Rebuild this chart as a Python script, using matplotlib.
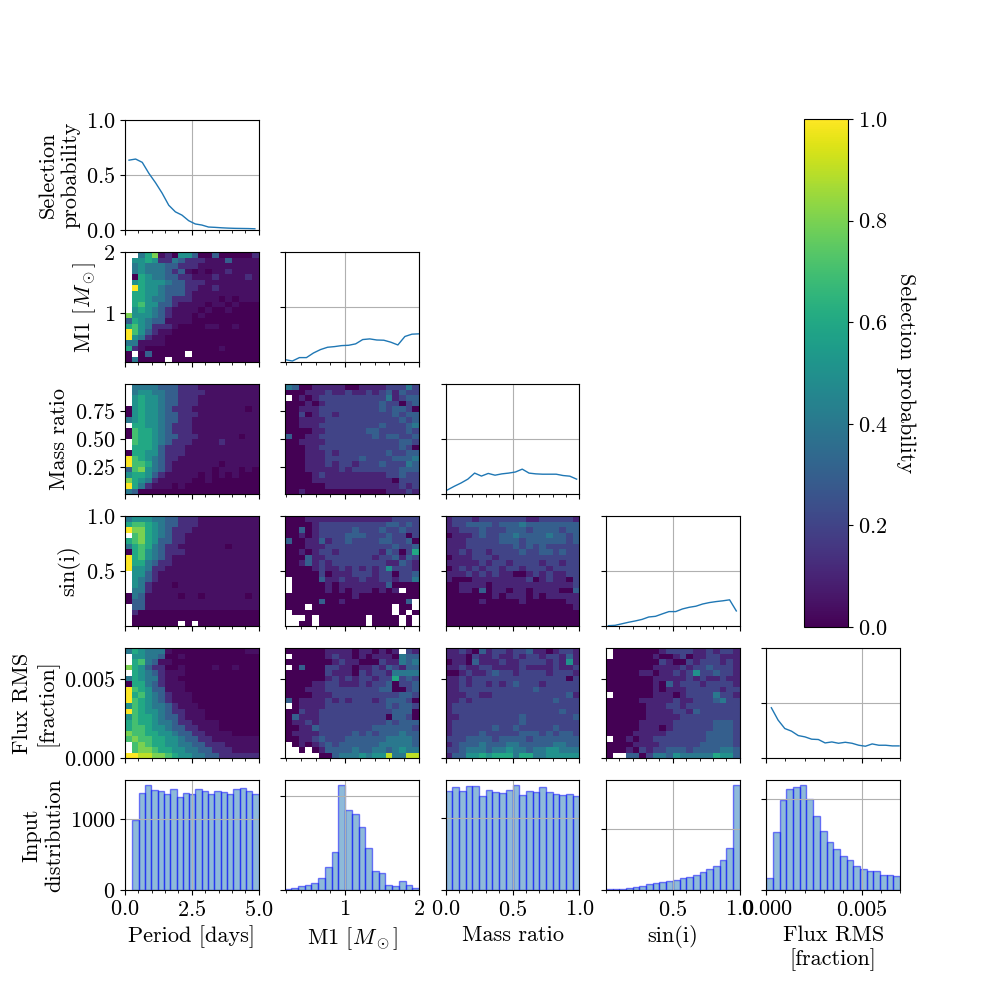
import numpy as np
import matplotlib
matplotlib.use("Agg")
import matplotlib.pyplot as plt
from matplotlib.ticker import AutoMinorLocator

plt.rcParams['font.family'] = 'serif'
plt.rcParams['font.serif'] = ['cmr10', 'DejaVu Serif']
plt.rcParams['mathtext.fontset'] = 'cm'
plt.rcParams['axes.formatter.use_mathtext'] = True
plt.rcParams['font.size'] = 16

names = ['Period [days]', r'M1 [$M_\odot$]', 'Mass ratio', 'sin(i)', 'Flux RMS\n[fraction]']

# selection probability along each parameter (diagonal panels)
period_sel = [0.635, 0.645, 0.615, 0.515, 0.43, 0.335, 0.225, 0.165, 0.135, 0.085,
              0.055, 0.045, 0.027, 0.024, 0.02, 0.017, 0.015, 0.014, 0.013, 0.011]
m1_sel = [0.021, 0.009, 0.04, 0.04, 0.082, 0.113, 0.134, 0.14, 0.149, 0.152,
          0.165, 0.204, 0.21, 0.20, 0.198, 0.18, 0.155, 0.232, 0.253, 0.256]
q_sel = [0.037, 0.07, 0.1, 0.135, 0.19, 0.163, 0.187, 0.171, 0.183, 0.19,
         0.2, 0.226, 0.19, 0.183, 0.18, 0.18, 0.18, 0.168, 0.162, 0.135]
sini_sel = [0.003, 0.006, 0.02, 0.034, 0.046, 0.06, 0.082, 0.088, 0.11, 0.131,
            0.131, 0.155, 0.17, 0.18, 0.2, 0.213, 0.222, 0.229, 0.238, 0.137]
flux_sel = [0.457, 0.345, 0.268, 0.244, 0.204, 0.192, 0.171, 0.168, 0.137, 0.146,
            0.134, 0.143, 0.134, 0.116, 0.107, 0.128, 0.116, 0.116, 0.11, 0.11]
sel_x_span = [(0.15, 4.86), (0.19, 2.0), (0.013, 0.98), (0.0175, 0.975), (0.00026, 0.00695)]

# input distributions (bottom row)
period_counts = [990, 1377, 1481, 1410, 1396, 1354, 1434, 1311, 1377, 1354,
                 1434, 1396, 1363, 1396, 1382, 1363, 1425, 1439, 1396, 1354]
m1_counts = [53, 106, 194, 246, 352, 616, 1197, 2007, 5546, 4260,
             4014, 3345, 2200, 1003, 880, 246, 194, 458, 246, 106]
q_counts = [1377, 1433, 1377, 1451, 1451, 1307, 1391, 1363, 1358, 1391,
            1460, 1326, 1377, 1363, 1433, 1363, 1340, 1330, 1340, 1312]
sini_counts = [55, 82, 110, 192, 275, 302, 467, 577, 659, 742,
               824, 989, 1071, 1209, 1456, 1731, 1951, 2473, 3434, 8599]
flux_counts = [322, 1599, 2482, 2785, 2849, 2886, 2518, 2031, 1618, 1324,
               1121, 928, 827, 671, 579, 515, 515, 404, 404, 377]
hist_span = [(0.275, 5.0), (0.18, 2.0), (0.0, 1.0), (0.0, 1.0), (0.0, 0.007)]
hist_tick = [1000, 5000, 1000, 5000, 2500]

# 2D selection maps, rows top to bottom, digit d = d/10, X = 1.0, . = empty
sel_period_m1 = [
    "..468120553003000002", ".5565224322211131111", ".4544433222111111111",
    ".4544432310101121111", ".0654433221112111121", ".5655543322211111111",
    ".X655433322112111111", ".6655433321111111111", ".6654432221111010111",
    ".6755332111101101000", ".5654321111010010000", "85554321110100000000",
    "36543311110000000000", "67542221000011001000", "X7532110000000000000",
    "X5421100000000000000", "44111100000000000000", "62100000000000100000",
    "0.0300000.0000000000", "040000.0000000000000"]
sel_period_q = [
    ".4444333222111111111", ".4554433222211111111", ".5655433222111111111",
    ".5655433222111111111", "05655432221111111101", "05655433222111111111",
    "45655433221111111111", ".6655432221111111111", "07665432221111111111",
    "07665433222111111011", ".7665432221111211111", ".6665322211111111111",
    "06655322211111111111", "X7654322111111111111", "X7764321111111011111",
    "37854321111110111010", "56653211111010101000", "86542111110010000000",
    "X6421110100000000000", "43000000000000000000"]
sel_m1_q = [
    "43001111100111122242", "00011121121121231322", ".0101222222222241233",
    "00010122222222322023", "00111222222222323320", "00201221222222223233",
    "00111122222222222323", "00111222222222322234", "00001122222233222232",
    "30011222222223233223", "00111122222222222332", "00011222222222222320",
    "00011121222222232233", "00011122222322223334", "00011121221222322243",
    "00011111212222222333", "00001211111111122322", "00001111111111110222",
    "00000011111111111212", "00100000000000011121"]
sel_period_sini = [
    "45554433222111111111", "67765433222111111111", "X8865432221111111111",
    ".7865432211111111111", "67865332211111111111", "46764322111111101111",
    "06754322211111111111", "X6754321111111111111", "X6643221111111111111",
    "X5542211111111111111", ".5532111111111111111", ".5432111111111111111",
    ".5421110111111111111", ".4421111111111111111", "04311111011011111101",
    "03311111111111111111", ".3311111111111111111", ".2000000000000000000",
    ".0000000000000000000", ".0000000.0.000000000"]
sel_m1_sini = [
    "00011111111111112222", "00001222222222233232", "00301222223222322322",
    "00101222233322232202", "30011312232222332230", "00011122222222223223",
    "00101221222222132026", "00031122222221223132", "00131212222222211321",
    "00001211212121252221", "00000201112221220223", ".0000311211211221224",
    ".0000010111111130000", ".0000010101110101.00", "00000000001000000000",
    "0000030010000000003.", "000.000000000000.00.", ".000000000000000.0.0",
    "...0.0000000.0000.0.", "..00.0000000.0000.0."]
sel_q_sini = [
    "12221222222211222221", "12233332333433333333", "11222322233323333233",
    "01112322334333343323", "11122222333233333323", "11122222223232322222",
    "11212212222322332322", "01112221222222222222", "11111212212222122122",
    "01212122122122212222", "11121212110012121122", "10001111111120121102",
    "00111101111111111112", "00110301101101111003", "00000001011101011111",
    "00000100000100000011", "00000000000000000001", "00000000000000000000",
    "00000000000000000000", "00000000000000000000"]
sel_period_flux = [
    "46544410000000000011", ".5544300100000000000", ".6743110000000000000",
    "86532200100001001000", ".6543211100000000000", "46544211000000000000",
    "06643211100000000000", "X7653311100000000000", "X6754321110000000000",
    "X7654321110000000000", "57654432111000000000", "X7655432211100000000",
    "57665433211100000000", "67665443221111000000", "67765543322111000000",
    "87766554332211110000", "78776655433221111111", ".7876655443322211111",
    ".7887665544332221111", "XX998876554433222222"]
sel_m1_flux = [
    "00000011110110101.21", ".0000012110101110433", "00000001211000211434",
    ".0300022110112132133", "00000021110212214444", "00000012121221226232",
    "00001122111212230223", "00011122222222330023", "00001112222222222332",
    "30111121212221233320", ".0111122222222232332", "00211222222222223330",
    "03111222222222203320", "01121222222222232333", "00113222222223333332",
    "01111222223232333433", "00112322233333344443", ".0101232333333444443",
    "..0.0133334334434544", ".....003444545594499"]
sel_q_flux = [
    "11210312212231101221", "11102112112122122131", "01103111211222212151",
    "11211221111211112112", "00121123221222212221", "11212222222222222202",
    "11212212123222122222", "11222222222223222222", "11122112222222222231",
    "11212222222222223222", "12222222222222222222", "12222222222222222322",
    "11222222222322222223", "12222222222322222222", "12222223223222223222",
    "12222322222333232332", "22233332333323333333", "12333433344333334433",
    "22344434454434455444", "13355656664664455555"]
sel_sini_flux = [
    ".0000000122221121221", ".0000001001201122111", "00000000210021222121",
    "00000001111212232221", "00000110112125223221", "00000001111121211211",
    "00000001031222122221", "00000001011122222122", ".0000001110122224221",
    "00000111112112223422", "00000011122122222222", "00000011112213222222",
    "00000011111222222222", "00000111112222223332", "00000111012222223332",
    "00001111122222233332", ".0010112222222233332", "00001111222222333332",
    "00010212233323333443", "0..33024435444446553"]

# the faint levels in the period maps are darker than in the others
low_levels = {'1': 0.04, '2': 0.13}


def decode(rows, faint=None):
    faint = faint or {}
    vals = []
    for r in rows:
        row = []
        for c in r:
            if c == '.':
                row.append(np.nan)
            elif c == 'X':
                row.append(1.0)
            elif c in faint:
                row.append(faint[c])
            else:
                row.append(int(c) / 10)
        vals.append(row)
    return np.array(vals)[::-1]


maps = {(0, 1): sel_period_m1, (0, 2): sel_period_q, (1, 2): sel_m1_q,
        (0, 3): sel_period_sini, (1, 3): sel_m1_sini, (2, 3): sel_q_sini,
        (0, 4): sel_period_flux, (1, 4): sel_m1_flux, (2, 4): sel_q_flux,
        (3, 4): sel_sini_flux}
sels = [period_sel, m1_sel, q_sel, sini_sel, flux_sel]
counts = [period_counts, m1_counts, q_counts, sini_counts, flux_counts]

xlims = [(0, 5), (0.19, 2.0), (0, 1), (0, 1), (0, 0.007)]
ylims = [(0, 5), (0.19, 2.0), (0.006, 0.99), (0.005, 1.0), (0, 0.007)]
xticks = [[0, 2.5, 5], [1, 2], [0, 0.5, 1], [0.5, 1.0], [0, 0.005]]
yticks = [None, [1, 2], [0.25, 0.5, 0.75], [0.5, 1.0], [0, 0.005]]

fig, axes = plt.subplots(6, 5, figsize=(10, 10))
mesh = None
for i in range(6):
    for j in range(5):
        ax = axes[i, j]
        if i < 5 and j > i:
            ax.axis('off')
            continue
        if i == 5:
            edges = np.linspace(hist_span[j][0], hist_span[j][1], 21)
            centers = 0.5 * (edges[1:] + edges[:-1])
            ax.hist(centers, bins=edges, weights=counts[j], color='C0',
                    alpha=0.5, edgecolor='blue', linewidth=1)
            ax.set_yticks([0, hist_tick[j]])
            ax.grid(True)
        elif i == j:
            xs = np.linspace(sel_x_span[j][0], sel_x_span[j][1], len(sels[j]))
            ax.plot(xs, sels[j], color='C0', lw=1)
            ax.set_ylim(0, 1)
            ax.set_yticks([0, 0.5, 1])
            ax.grid(True)
        else:
            grid = decode(maps[(j, i)], low_levels if j == 0 else None)
            xe = np.linspace(xlims[j][0], xlims[j][1], grid.shape[1] + 1)
            ye = np.linspace(ylims[i][0], ylims[i][1], grid.shape[0] + 1)
            mesh = ax.pcolormesh(xe, ye, grid, cmap='viridis', vmin=0, vmax=1)
            ax.set_ylim(ylims[i])
            ax.set_yticks(yticks[i])
        ax.set_xlim(xlims[j])
        ax.set_xticks(xticks[j])
        ax.xaxis.set_minor_locator(AutoMinorLocator())
        if i < 5:
            ax.tick_params(labelbottom=False)
        else:
            ax.set_xlabel(names[j])
        if j > 0:
            ax.tick_params(labelleft=False)
        elif i == 0:
            ax.set_ylabel('Selection\nprobability')
        elif i == 5:
            ax.set_ylabel('Input\ndistribution')
        else:
            ax.set_ylabel(names[i])

cax = fig.add_axes([0.804, 0.373, 0.044, 0.508])
cb = fig.colorbar(mesh, cax=cax)
cb.set_label('Selection probability', rotation=270, labelpad=20)

fig.savefig('out.png', dpi=100)
